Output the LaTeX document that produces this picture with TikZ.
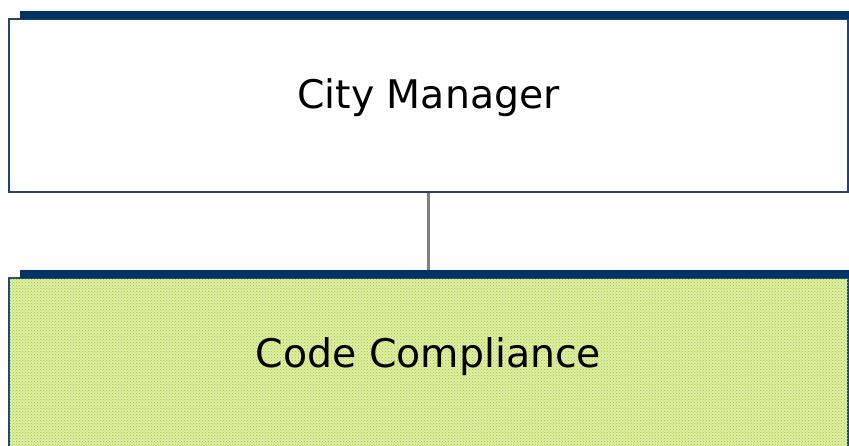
\documentclass[tikz,border=0pt]{standalone}
\usepackage{fontspec}
\setmainfont{DejaVu Sans}
\usetikzlibrary{patterns}
\definecolor{barnavy}{RGB}{0,51,102}
\definecolor{boxedge}{RGB}{35,65,115}
\definecolor{ccpale}{RGB}{222,238,170}
\definecolor{ccdot}{RGB}{160,205,30}

\begin{document}
\begin{tikzpicture}[x=1pt,y=-1pt,
    orgbox/.style={draw=boxedge,line width=2.4pt,rectangle,minimum width=839pt,minimum height=173pt,inner sep=0pt,
      font=\fontsize{39.4}{47}\selectfont,text height=29pt,text depth=23pt},
    topbar/.style={fill=barnavy,rectangle,minimum width=829pt,minimum height=8pt,inner sep=0pt},
    dotfill/.style={fill=ccpale,postaction={pattern=crosshatch dots,pattern color=ccdot}},
    conn/.style={draw=black!50,line width=2.6pt}]
    \useasboundingbox (0,0) rectangle (849,446);
    \clip (0,0) rectangle (849,446);

    \node[orgbox,fill=white] (mgr) at (428.5,105.5) {City Manager};
    \node[topbar] (mgrbar) at (434.5,15) {};

    \node[orgbox,dotfill] (cc) at (428.5,364.5) {Code Compliance};
    \node[topbar] (ccbar) at (434.5,274) {};

    \draw[conn] (mgr.south) -- (mgr.south |- ccbar.north);
\end{tikzpicture}
\end{document}
